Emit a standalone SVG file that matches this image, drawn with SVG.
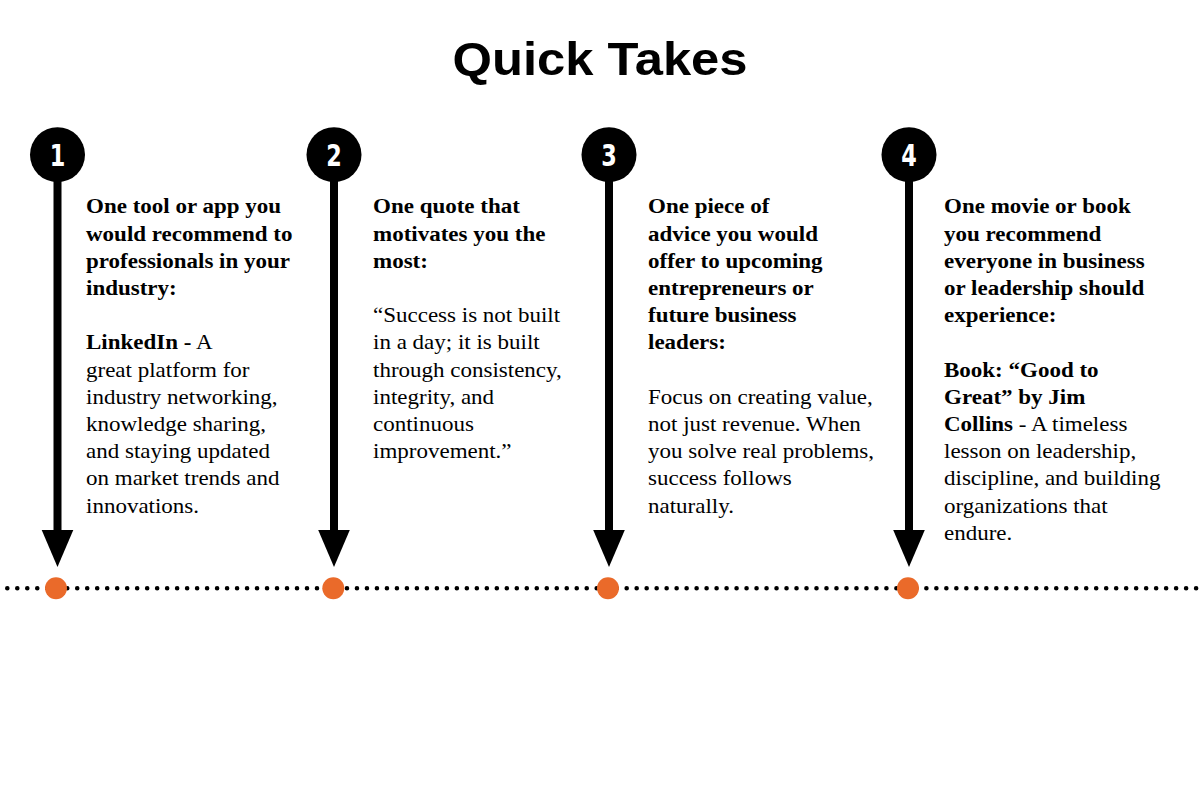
<svg xmlns="http://www.w3.org/2000/svg" width="1200" height="800" viewBox="0 0 1200 800">
<defs>
<style>
.title{font-family:"Liberation Sans",Arial,sans-serif;font-weight:bold;font-size:47px;fill:#000}
.num{font-family:"DejaVu Sans Condensed","DejaVu Sans",sans-serif;font-weight:bold;font-size:31px;fill:#fff}
.txt{font-family:"Liberation Serif","Times New Roman",serif;font-size:20px;fill:#000}
.b{font-weight:bold}
.stem{stroke:#000;stroke-width:8}
.badge{fill:#000}
.head{fill:#000}
.dot{fill:#EA6A2A}
</style>
</defs>
<rect width="1200" height="800" fill="#fff"/>
<text class="title" x="600" y="75" text-anchor="middle" textLength="295" lengthAdjust="spacingAndGlyphs">Quick Takes</text>

<g id="connectors">
<line x1="7.3" y1="588.3" x2="1198" y2="588.3" stroke="#000" stroke-width="4.6" stroke-linecap="round" stroke-dasharray="0 9.99"/>
<line class="stem" x1="57.5" y1="175" x2="57.5" y2="532"/>
<polygon class="head" points="41.7,530 73.3,530 57.5,567"/>
<line class="stem" x1="334" y1="175" x2="334" y2="532"/>
<polygon class="head" points="318.2,530 349.8,530 334,567"/>
<line class="stem" x1="609" y1="175" x2="609" y2="532"/>
<polygon class="head" points="593.2,530 624.8,530 609,567"/>
<line class="stem" x1="909" y1="175" x2="909" y2="532"/>
<polygon class="head" points="893.2,530 924.8,530 909,567"/>
</g>

<g id="marker1"><circle class="badge" cx="57.5" cy="154.7" r="27.5"/><text class="num" x="0" y="166" text-anchor="middle" transform="translate(57.5,0) scale(0.8,1)">1</text><circle class="dot" cx="56" cy="588.2" r="11"/></g>
<g id="marker2"><circle class="badge" cx="334" cy="154.7" r="27.5"/><text class="num" x="0" y="166" text-anchor="middle" transform="translate(334,0) scale(0.8,1)">2</text><circle class="dot" cx="333.3" cy="588.2" r="11"/></g>
<g id="marker3"><circle class="badge" cx="609" cy="154.7" r="27.5"/><text class="num" x="0" y="166" text-anchor="middle" transform="translate(609,0) scale(0.8,1)">3</text><circle class="dot" cx="608" cy="588.2" r="11"/></g>
<g id="marker4"><circle class="badge" cx="909" cy="154.7" r="27.5"/><text class="num" x="0" y="166" text-anchor="middle" transform="translate(909,0) scale(0.8,1)">4</text><circle class="dot" cx="908" cy="588.2" r="11"/></g>

<g id="text1" class="txt" transform="translate(86,0) scale(1.15,1)">
<text x="0" y="213.5" class="b">One tool or app you</text>
<text x="0" y="240.7" class="b">would recommend to</text>
<text x="0" y="267.9" class="b">professionals in your</text>
<text x="0" y="295.1" class="b">industry:</text>
<text x="0" y="349.5"><tspan class="b">LinkedIn -</tspan> A</text>
<text x="0" y="376.7">great platform for</text>
<text x="0" y="403.9">industry networking,</text>
<text x="0" y="431.1">knowledge sharing,</text>
<text x="0" y="458.3">and staying updated</text>
<text x="0" y="485.5">on market trends and</text>
<text x="0" y="512.7">innovations.</text>
</g>

<g id="text2" class="txt" transform="translate(373,0) scale(1.15,1)">
<text x="0" y="213.5" class="b">One quote that</text>
<text x="0" y="240.7" class="b">motivates you the</text>
<text x="0" y="267.9" class="b">most:</text>
<text x="0" y="322.3">“Success is not built</text>
<text x="0" y="349.5">in a day; it is built</text>
<text x="0" y="376.7">through consistency,</text>
<text x="0" y="403.9">integrity, and</text>
<text x="0" y="431.1">continuous</text>
<text x="0" y="458.3">improvement.”</text>
</g>

<g id="text3" class="txt" transform="translate(648,0) scale(1.15,1)">
<text x="0" y="213.5" class="b">One piece of</text>
<text x="0" y="240.7" class="b">advice you would</text>
<text x="0" y="267.9" class="b">offer to upcoming</text>
<text x="0" y="295.1" class="b">entrepreneurs or</text>
<text x="0" y="322.3" class="b">future business</text>
<text x="0" y="349.5" class="b">leaders:</text>
<text x="0" y="403.9">Focus on creating value,</text>
<text x="0" y="431.1">not just revenue. When</text>
<text x="0" y="458.3">you solve real problems,</text>
<text x="0" y="485.5">success follows</text>
<text x="0" y="512.7">naturally.</text>
</g>

<g id="text4" class="txt" transform="translate(944,0) scale(1.15,1)">
<text x="0" y="213.5" class="b">One movie or book</text>
<text x="0" y="240.7" class="b">you recommend</text>
<text x="0" y="267.9" class="b">everyone in business</text>
<text x="0" y="295.1" class="b">or leadership should</text>
<text x="0" y="322.3" class="b">experience:</text>
<text x="0" y="376.7" class="b">Book: “Good to</text>
<text x="0" y="403.9" class="b">Great” by Jim</text>
<text x="0" y="431.1"><tspan class="b">Collins</tspan> - A timeless</text>
<text x="0" y="458.3">lesson on leadership,</text>
<text x="0" y="485.5">discipline, and building</text>
<text x="0" y="512.7">organizations that</text>
<text x="0" y="539.9">endure.</text>
</g>
</svg>
